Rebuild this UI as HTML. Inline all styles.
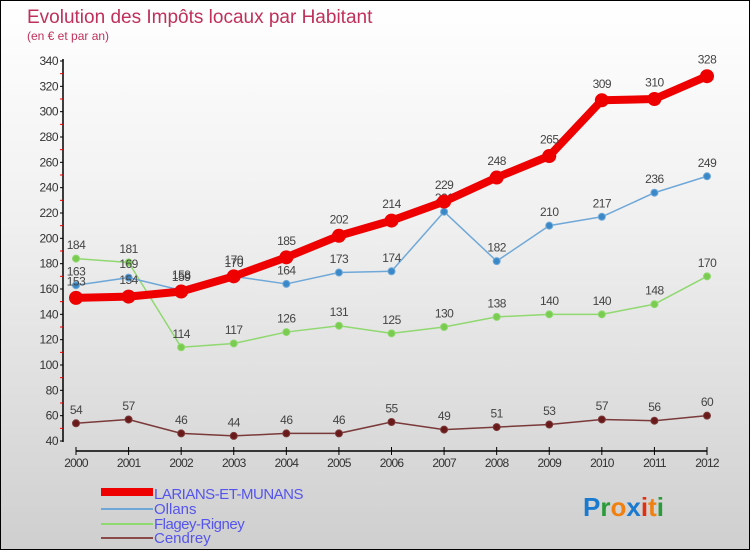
<!DOCTYPE html>
<html><head><meta charset="utf-8"><style>
html,body{margin:0;padding:0;}
body{width:750px;height:550px;overflow:hidden;font-family:"Liberation Sans",sans-serif;}
#wrap{position:relative;width:748px;height:548px;border:1px solid #000;background:linear-gradient(#fff,#f0f0f0 40%,#cfcfcf);}
</style></head><body>
<div id="wrap">
<svg id="chart" width="748" height="548" style="position:absolute;left:0;top:0">
<text x="26" y="22" font-size="19" fill="#c0305a">Evolution des Impôts locaux par Habitant</text>
<text x="26" y="39" font-size="12" fill="#c0305a">(en € et par an)</text>
<g id="axes"></g><g id="series"></g>
<g>
<rect x="100" y="487" width="52" height="8" fill="#e00"/>
<text x="153" y="498" font-size="15" fill="#5555ee" letter-spacing="-0.5">LARIANS-ET-MUNANS</text>
<rect x="100" y="507" width="52" height="2" fill="#6fa8d8"/>
<text x="153" y="513" font-size="15" fill="#5555ee">Ollans</text>
<rect x="100" y="522" width="52" height="2" fill="#90d870"/>
<text x="153" y="528" font-size="15" fill="#5555ee" letter-spacing="-0.5">Flagey-Rigney</text>
<rect x="100" y="536" width="52" height="2" fill="#8a4a4a"/>
<text x="153" y="542" font-size="15" fill="#5555ee">Cendrey</text>
</g>
<g font-size="26" font-weight="bold" font-family="'Liberation Sans',sans-serif">
<text x="582" y="515"><tspan fill="#1a7ad0">P</tspan><tspan fill="#2a9a3a">r</tspan><tspan fill="#f08010">o</tspan><tspan fill="#1a7ad0">x</tspan><tspan fill="#e03010">i</tspan><tspan fill="#f08010">t</tspan><tspan fill="#2a9a3a">i</tspan></text>
</g>
</svg>
</div>
<script>
const years=[2000,2001,2002,2003,2004,2005,2006,2007,2008,2009,2010,2011,2012];
const larians=[153,154,158,170,185,202,214,229,248,265,309,310,328];
const ollans=[163,169,159,170,164,173,174,221,182,210,217,236,249];
const flagey=[184,181,114,117,126,131,125,130,138,140,140,148,170];
const cendrey=[54,57,46,44,46,46,55,49,51,53,57,56,60];
const yTicks=[40,60,80,100,120,140,160,180,200,220,240,260,280,300,320,340];
const NS="http://www.w3.org/2000/svg";
function X(i){return 75+i*(706-75)/(years.length-1);}
function Y(v){return 440-(v-40)*(380/300);}
function mk(t,a,p){const e=document.createElementNS(NS,t);for(const k in a)e.setAttribute(k,a[k]);p.appendChild(e);return e;}
const ax=document.getElementById('axes');
let l=mk('line',{x1:62,y1:58,x2:62,y2:441,stroke:'#000','stroke-width':1.5},ax);


yTicks.forEach((v,i)=>{
 mk('line',{x1:59,y1:Y(v),x2:62,y2:Y(v),stroke:'#000'},ax);
 if(i<yTicks.length-1) mk('line',{x1:59,y1:Y(v+10),x2:62,y2:Y(v+10),stroke:'#e00'},ax);
 const t=mk('text',{x:57,y:Y(v)+4,'font-size':12,fill:'#333','text-anchor':'end','letter-spacing':'-0.5'},ax);
 t.textContent=v;
 
 
});
l=mk('line',{x1:75,y1:450,x2:706,y2:450,stroke:'#000','stroke-width':1.5},ax);


years.forEach((y,i)=>{
 mk('line',{x1:X(i),y1:446,x2:X(i),y2:454,stroke:'#000'},ax);
 const t=mk('text',{x:X(i),y:466,'font-size':12,fill:'#333','text-anchor':'middle','letter-spacing':'-0.8'},ax);
 t.textContent=y;
 
 
});
const sg=document.getElementById('series');
function draw(vals,name,color,dot,w,r){
 const g=mk('g',{},sg);
 
 
 const pl=mk('polyline',{points:vals.map((v,i)=>X(i)+','+Y(v)).join(' '),fill:'none',stroke:color,'stroke-width':w,'stroke-linejoin':'round'},g);
 
 
 vals.forEach((v,i)=>{
  const c=mk('circle',{cx:X(i),cy:Y(v),r:r,fill:dot,stroke:color,'stroke-width':1},g);
  
  
  const t=mk('text',{x:X(i),y:Y(v)-r-6,'font-size':12,fill:'#444','text-anchor':'middle','letter-spacing':'-0.5'},g);
  t.textContent=v;
  
  
 });
}
draw(cendrey,'cendrey','#7a3a3a','#6a1a1a',1.5,3.5);
draw(flagey,'flagey-rigney','#90d870','#7acc50',1.5,3.5);
draw(ollans,'ollans','#6fa8d8','#3a88c8',1.5,3.5);
draw(larians,'larians-et-munans','#e00','#e00',8,6.5);
</script>
</body></html>
